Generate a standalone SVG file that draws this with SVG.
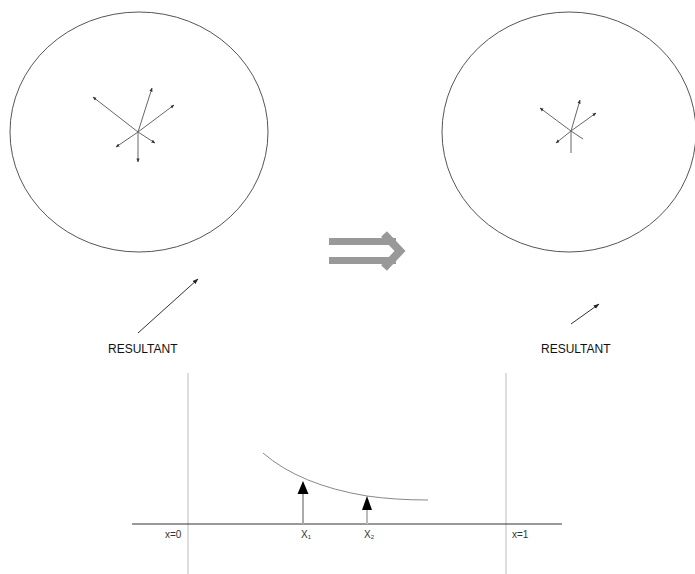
<svg xmlns="http://www.w3.org/2000/svg" width="695" height="574" viewBox="0 0 695 574">
<defs>
<marker id="sm" viewBox="0 0 10 10" refX="9" refY="5" markerWidth="4" markerHeight="4" orient="auto" markerUnits="userSpaceOnUse">
<path d="M0,1 L10,5 L0,9 Z" fill="#333"/>
</marker>
<marker id="md" viewBox="0 0 10 10" refX="9" refY="5" markerWidth="6" markerHeight="6" orient="auto" markerUnits="userSpaceOnUse">
<path d="M0,1.5 L10,5 L0,8.5 Z" fill="#222"/>
</marker>
</defs>
<style>
.circ{fill:none;stroke:#555;stroke-width:1}
.vec{stroke:#666;stroke-width:1;fill:none}
.lbl{font-family:"Liberation Sans",Arial,sans-serif;font-size:12px;fill:#111}
.sml{font-family:"Liberation Sans",Arial,sans-serif;font-size:10px;fill:#333}
.guide{stroke:#c8c8c8;stroke-width:1.2}
</style>
<g id="left-circle">
<ellipse class="circ" cx="139" cy="132" rx="129" ry="120"/>
<g class="vec">
<line x1="138" y1="132" x2="93" y2="97" marker-end="url(#sm)"/>
<line x1="138" y1="132" x2="152" y2="88" marker-end="url(#sm)"/>
<line x1="138" y1="132" x2="174" y2="105" marker-end="url(#sm)"/>
<line x1="138" y1="132" x2="116" y2="147" marker-end="url(#sm)"/>
<line x1="138" y1="132" x2="155" y2="143" marker-end="url(#sm)"/>
<line x1="138" y1="132" x2="138" y2="162" marker-end="url(#sm)"/>
</g>
</g>
<g id="right-circle">
<ellipse class="circ" cx="569" cy="132" rx="127" ry="120"/>
<g class="vec">
<line x1="571" y1="131" x2="540" y2="108" marker-end="url(#sm)"/>
<line x1="571" y1="131" x2="580" y2="100" marker-end="url(#sm)"/>
<line x1="571" y1="131" x2="596" y2="113" marker-end="url(#sm)"/>
<line x1="571" y1="131" x2="556" y2="143" marker-end="url(#sm)"/>
<line x1="571" y1="131" x2="583" y2="139"/>
<line x1="571" y1="131" x2="571" y2="153"/>
</g>
</g>
<g id="implies">
<rect x="329" y="238" width="67" height="7" fill="#999"/>
<rect x="329" y="257" width="67" height="7" fill="#999"/>
<polyline points="384,234 400,251 384,268" fill="none" stroke="#999" stroke-width="8" stroke-linejoin="miter"/>
</g>
<g id="resultant-left">
<line x1="138" y1="333" x2="198" y2="279" stroke="#333" stroke-width="1" marker-end="url(#md)"/>
<text class="lbl" x="108" y="353">RESULTANT</text>
</g>
<g id="resultant-right">
<line x1="571" y1="324" x2="599" y2="304" stroke="#333" stroke-width="1" marker-end="url(#md)"/>
<text class="lbl" x="541" y="353">RESULTANT</text>
</g>
<g id="graph">
<line class="guide" x1="188" y1="373" x2="188" y2="574"/>
<line class="guide" x1="506" y1="373" x2="506" y2="574"/>
<line x1="132" y1="524" x2="562" y2="524" stroke="#333" stroke-width="1.2"/>
<path d="M263,453 Q300,485 367,496 Q395,500 428,500" fill="none" stroke="#888" stroke-width="1"/>
<line x1="303" y1="524" x2="303" y2="492" stroke="#aaa" stroke-width="2"/>
<polygon points="303,481 308.5,494 297.5,494" fill="#000"/>
<line x1="367" y1="524" x2="367" y2="508" stroke="#bbb" stroke-width="2"/>
<polygon points="367,496 372,510 362,510" fill="#000"/>
<text class="sml" x="165" y="538">x=0</text>
<text class="sml" x="512" y="538">x=1</text>
<text class="sml" x="301" y="538">X<tspan font-size="6" dy="1">1</tspan></text>
<text class="sml" x="364" y="538">X<tspan font-size="6" dy="1">2</tspan></text>
</g>
</svg>
